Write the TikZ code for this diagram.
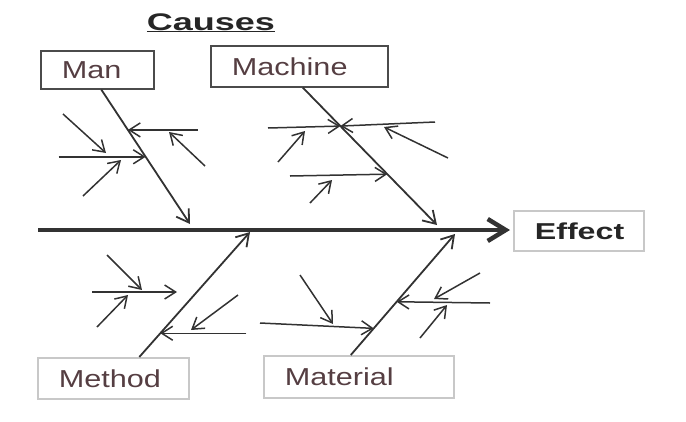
\documentclass[tikz,border=0pt]{standalone}
\usepackage{fontspec}
\setmainfont{Liberation Sans}
\newfontfamily\boxfont[FakeStretch=1.25]{Liberation Sans}
\newfontfamily\headfont[FakeStretch=1.4]{Liberation Sans}
\newfontfamily\titlefont[FakeStretch=1.5]{Liberation Sans}
\usetikzlibrary{arrows.meta}
\usetikzlibrary{calc}
\definecolor{bonegray}{RGB}{50,50,50}
\definecolor{labelgray}{RGB}{85,62,66}
\definecolor{darkedge}{RGB}{75,75,75}
\definecolor{lightedge}{RGB}{200,200,200}

\begin{document}
\begin{tikzpicture}[x=1pt,y=-1pt,
	cbox/.style={rectangle,draw=#1,line width=1.6pt,inner xsep=21pt,inner ysep=0pt,anchor=north west,align=left,text=labelgray,font=\boxfont\fontsize{24.5}{26}\selectfont},
	cbox/.default=darkedge,
	bone/.style={draw=bonegray,line width=1.8pt,-{Straight Barb[length=12pt,width=15pt]}},
	twig/.style={bone,line width=1.5pt,-{Straight Barb[length=11pt,width=14pt]}}]
		\useasboundingbox (0,0) rectangle (686,421);
		\node[anchor=base,text=black!85,font=\titlefont\bfseries\fontsize{24}{26}\selectfont] (causes) at (211,30){\underline{Causes}};
		\node[cbox,text width=71pt,minimum height=38pt] (man) at (40,50){Man};
		\node[cbox,text width=135pt,minimum height=41pt] (machine) at (210,45){Machine};
		\node[cbox=lightedge,text width=109pt,minimum height=41pt] (method) at (37,357){Method};
		\node[cbox=lightedge,text width=148pt,minimum height=42pt] (material) at (263,355){Material};
		\node[cbox=lightedge,text width=88pt,minimum height=40pt,text=black!85,font=\headfont\bfseries\fontsize{23}{25}\selectfont] (effect) at (513,210){Effect};
		\coordinate (tail) at (38,230);
		\draw[draw=bonegray,line width=4.5pt,-{Straight Barb[length=18pt,width=22pt]}] (tail) -- ([xshift=-3pt]tail -| effect.west);
		% man
		\coordinate (manS) at ([xshift=4pt]man.south);
		\coordinate (manE) at (190,224);
		\coordinate (man1) at ($(manS)!.30!(manE)$);
		\coordinate (man2) at ($(manS)!.50!(manE)$);
		\coordinate (man1r) at ($(man1)+(70,0)$);
		\coordinate (man2l) at ($(man2)+(-87,0)$);
		\coordinate (man1s) at (205,166);
		\coordinate (man1t) at (169,132);
		\coordinate (man2s) at (63,114);
		\coordinate (man2t) at (106,153);
		\coordinate (man3s) at (83,196);
		\coordinate (man3t) at (121,160);
		\draw[bone] (manS) -- (manE);
		\draw[twig] (man1r) -- (man1);
		\draw[twig] (man2l) -- (man2);
		\draw[twig] (man1s) -- (man1t);
		\draw[twig] (man2s) -- (man2t);
		\draw[twig] (man3s) -- (man3t);
		% machine
		\coordinate (macS) at ([xshift=3.5pt]machine.south);
		\coordinate (macE) at (437,225);
		\coordinate (mac1) at ($(macS)!.28!(macE)$);
		\coordinate (mac2) at ($(macS)!.63!(macE)$);
		\coordinate (mac1l) at (268,128);
		\coordinate (mac1r) at (435,122);
		\coordinate (mac2l) at (290,176);
		\coordinate (mac1s) at (278,162);
		\coordinate (mac1t) at (305,131);
		\coordinate (mac2s) at (448,158);
		\coordinate (mac2t) at (384,127);
		\coordinate (mac3s) at (310,203);
		\coordinate (mac3t) at (332,180);
		\draw[bone] (macS) -- (macE);
		\draw[twig] (mac1l) -- (mac1);
		\draw[twig] (mac1r) -- (mac1);
		\draw[twig] (mac2l) -- (mac2);
		\draw[twig] (mac1s) -- (mac1t);
		\draw[twig] (mac2s) -- (mac2t);
		\draw[twig] (mac3s) -- (mac3t);
		% method
		\coordinate (metS) at ([xshift=26pt]method.north);
		\coordinate (metE) at (250,232);
		\coordinate (met1) at ($(metS)!.19!(metE)$);
		\coordinate (met1r) at ($(met1)+(86,0)$);
		\coordinate (met2l) at (92,292);
		\coordinate (met2r) at (177,292);
		\coordinate (met1s) at (238,295);
		\coordinate (met1t) at (191,330);
		\coordinate (met2s) at (107,255);
		\coordinate (met2t) at (142,290);
		\coordinate (met3s) at (97,327);
		\coordinate (met3t) at (128,295);
		\draw[bone] (metS) -- (metE);
		\draw[twig] (met1r) -- (met1);
		\draw[twig] (met2l) -- (met2r);
		\draw[twig] (met1s) -- (met1t);
		\draw[twig] (met2s) -- (met2t);
		\draw[twig] (met3s) -- (met3t);
		% material
		\coordinate (matS) at ([xshift=-8pt]material.north);
		\coordinate (matE) at (455,234);
		\coordinate (mat1) at ($(matS)!.22!(matE)$);
		\coordinate (mat2) at ($(matS)!.44!(matE)$);
		\coordinate (mat1l) at (260,323);
		\coordinate (mat2r) at (490,303);
		\coordinate (mat1s) at (300,275);
		\coordinate (mat1t) at (333,324);
		\coordinate (mat2s) at (480,273);
		\coordinate (mat2t) at (434,299);
		\coordinate (mat3s) at (420,338);
		\coordinate (mat3t) at (447,305);
		\draw[bone] (matS) -- (matE);
		\draw[twig] (mat1l) -- (mat1);
		\draw[twig] (mat2r) -- (mat2);
		\draw[twig] (mat1s) -- (mat1t);
		\draw[twig] (mat2s) -- (mat2t);
		\draw[twig] (mat3s) -- (mat3t);
	\end{tikzpicture}
\end{document}
